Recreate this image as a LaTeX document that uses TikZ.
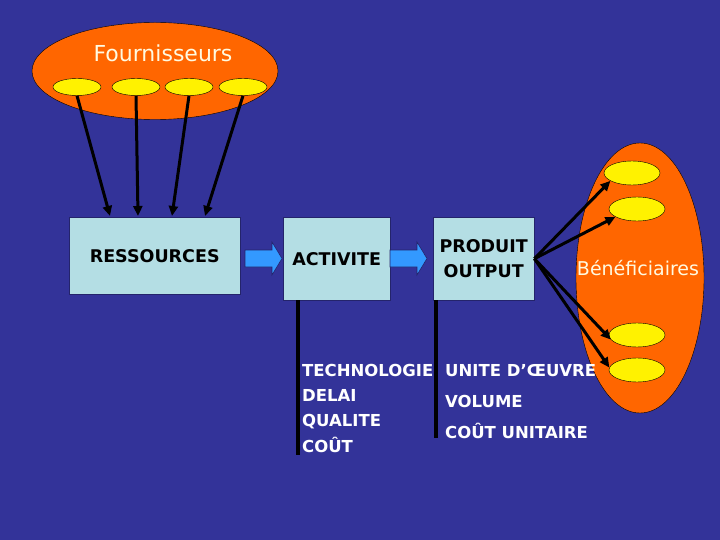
\documentclass[tikz,border=0pt]{standalone}
\usepackage{fontspec}
\setmainfont{DejaVu Sans}
\usetikzlibrary{arrows.meta,shapes.geometric}
\definecolor{fond}{RGB}{51,51,153}
\definecolor{orangeG}{RGB}{255,102,0}
\definecolor{boiteC}{RGB}{180,222,228}
\definecolor{flecheC}{RGB}{51,153,255}
\definecolor{creme}{RGB}{255,250,225}
\tikzset{
  groupe/.style={ellipse, draw=black, fill=orangeG, inner sep=0},
  unite/.style={ellipse, draw=black, fill=yellow, inner sep=0, minimum width=48pt, minimum height=17pt},
  boite/.style={draw=fond!70!black, fill=boiteC, anchor=north west, inner sep=0, align=center, font=\bfseries\fontsize{17.5}{25}\selectfont},
  titre/.style={text=creme, inner sep=0},
  lien/.style={line width=3pt, -{Triangle[length=10pt,width=9pt]}},
  trait/.style={line width=4pt},
  bloc/.style={fill=flecheC, draw=fond!70!black, line width=.6pt},
  etiq/.style={text=white, anchor=west, inner sep=0, text height=13pt, text depth=0pt, font=\bfseries\fontsize{16.5}{22}\selectfont}
}
\begin{document}
\begin{tikzpicture}[x=1pt,y=-1pt]
\fill[fond] (0,0) rectangle (720,540);
\node (four) [groupe, minimum width=246pt, minimum height=97pt] at (155,71) {};
\node (benef) [groupe, minimum width=128pt, minimum height=270pt] at (640,278) {};
\node (tfour) [titre, font=\fontsize{22}{26}\selectfont] at (163,53) {Fournisseurs};
\node (tbenef) [titre, font=\fontsize{19}{23}\selectfont] at (638,268) {Bénéficiaires};
\foreach \n/\x in {1/77,2/136,3/189,4/243} \node (f\n) [unite] at (\x,87) {};
\foreach \n/\x/\y in {1/632/173,2/637/209,3/637/335,4/637/370} \node (b\n) [unite, minimum width=56pt, minimum height=24pt] at (\x,\y) {};
\node (res) [boite, minimum width=171pt, minimum height=77pt] at (69,217) {RESSOURCES};
\node (act) [boite, minimum width=107pt, minimum height=83pt] at (283,217) {ACTIVITE};
\node (prod) [boite, minimum width=101pt, minimum height=83pt] at (433,217) {PRODUIT\\OUTPUT};
\foreach \x in {245,390} \draw[bloc] (\x,250) -- ++(27,0) -- ++(0,-8) -- ++(10,16.5) -- ++(-10,16.5) -- ++(0,-8) -- ++(-27,0) -- cycle;
\coordinate (r1) at (110,216); \coordinate (r2) at (138,216); \coordinate (r3) at (172,216); \coordinate (r4) at (205,216);
\foreach \n in {1,...,4} \draw[lien] (f\n.south) -- (r\n);
\foreach \n/\a in {1/200,2/200,3/190,4/175} \draw[lien] (prod.east) -- (b\n.\a);
\draw[trait] ([xshift=15pt]act.south west) -- ++(0,155);
\draw[trait] ([xshift=3pt]prod.south west) -- ++(0,138);
\node (tech) [etiq] at (302,370) {TECHNOLOGIE};
\node (delai) [etiq] at (302,395) {DELAI};
\node (qual) [etiq] at (302,420) {QUALITE};
\node (cout) [etiq] at (302,446) {COÛT};
\node (uoeuv) [etiq] at (445,370) {UNITE D’ŒUVRE};
\node (vol) [etiq] at (445,401) {VOLUME};
\node (cunit) [etiq] at (445,432) {COÛT UNITAIRE};
\end{tikzpicture}
\end{document}
